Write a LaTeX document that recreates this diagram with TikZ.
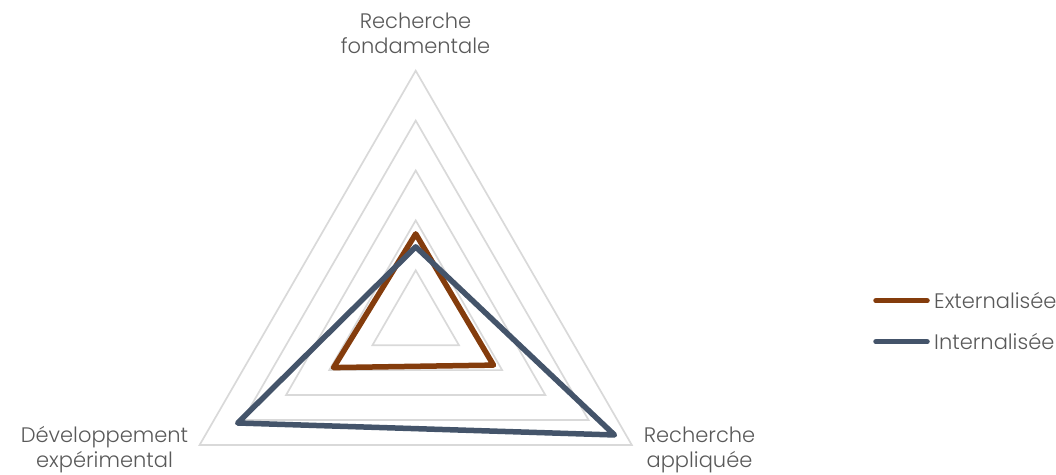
\documentclass[tikz,border=0pt]{standalone}
\usepackage{fontspec}
\setmainfont{Poppins}[UprightFont={* Light}]
\usetikzlibrary{positioning}
\definecolor{extbrown}{HTML}{843C0C}
\definecolor{intblue}{HTML}{44546A}
\definecolor{gridgray}{HTML}{D9D9D9}
\definecolor{labelgray}{HTML}{595959}
\tikzset{
    gridline/.style={draw=gridgray, line width=1.7pt},
    seriesline/.style={line width=5.5pt, line join=round, line cap=round},
    axislabel/.style={text=labelgray, align=center, inner sep=0pt, font=\fontsize{21}{25}\selectfont},
    legendlabel/.style={text=labelgray, inner sep=0pt, font=\fontsize{21}{25}\selectfont}
}
\begin{document}
\begin{tikzpicture}[x=1pt, y=1pt]
    \useasboundingbox (0,0) rectangle (1056,474);
    \coordinate (O) at (415.7,153.8);

    \begin{scope}[shift={(O)}, x=49.9pt, y=49.9pt]
        % Grid (5 levels)
        \foreach \r in {1,...,5} {
            \draw[gridline] (90:\r) -- (210:\r) -- (330:\r) -- cycle;
        }

        % Externalisee
        \coordinate (E1) at (90:1.73);
        \coordinate (E2) at (210:1.90);
        \coordinate (E3) at (330:1.80);
        \draw[seriesline, extbrown] (E1) -- (E2) -- (E3) -- cycle;

        % Internalisee
        \coordinate (I1) at (90:1.47);
        \coordinate (I2) at (210:4.12);
        \coordinate (I3) at (330:4.60);
        \draw[seriesline, intblue] (I1) -- (I2) -- (I3) -- cycle;
    \end{scope}

    % Axis labels
    \node[axislabel, anchor=base] (fond) at (415.5,420.7) {Recherche\\fondamentale};
    \node[axislabel, anchor=base] (dev) at (104.5,6.5) {Développement\\expérimental};
    \node[axislabel, anchor=base] (appl) at (699.5,6.5) {Recherche\\appliquée};

    % Legend
    \coordinate (Ea) at (876,173.3);
    \coordinate (Eb) at (927,173.3);
    \draw[seriesline, extbrown] (Ea) -- (Eb);
    \node[legendlabel, right=7pt of Eb] (Elab) {Externalisée};

    \coordinate (Ia) at (876,132.3);
    \coordinate (Ib) at (927,132.3);
    \draw[seriesline, intblue] (Ia) -- (Ib);
    \node[legendlabel, right=7pt of Ib] (Ilab) {Internalisée};
\end{tikzpicture}
\end{document}
